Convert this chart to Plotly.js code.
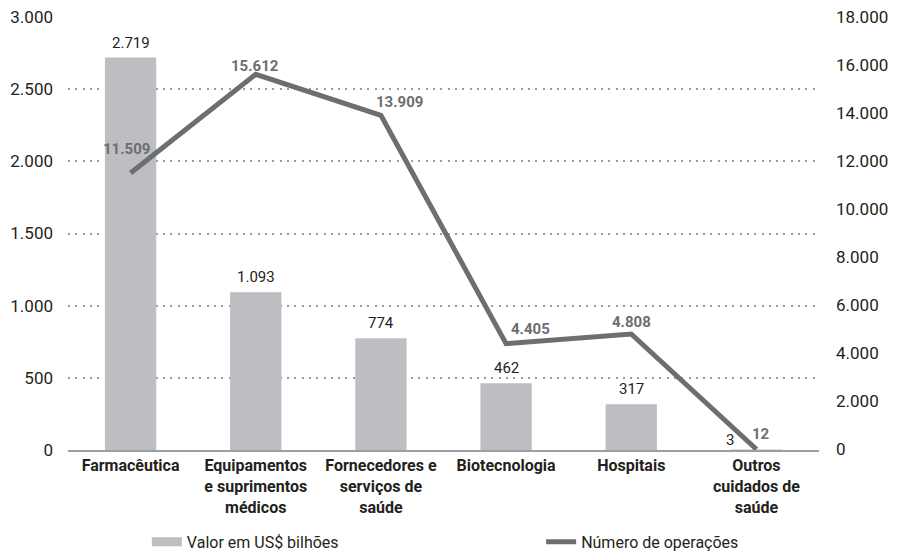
<!DOCTYPE html>
<html>
<head>
<meta charset="utf-8">
<script src="https://cdn.plot.ly/plotly-3.0.1.min.js"></script>
<style>html,body{margin:0;padding:0;background:#fff;}#chart{width:897px;height:552px;}</style>
</head>
<body>
<div id="chart"></div>
<script>
// ---- Data ----
const categories = [
  "Farmacêutica",
  "Equipamentos<br>e suprimentos<br>médicos",
  "Fornecedores e<br>serviços de<br>saúde",
  "Biotecnologia",
  "Hospitais",
  "Outros<br>cuidados de<br>saúde"
];
const valorBilhoes = [2719, 1093, 774, 462, 317, 3];
const numeroOperacoes = [11509, 15612, 13909, 4405, 4808, 12];
const leftTicks = [0, 500, 1000, 1500, 2000, 2500, 3000];
const rightTicks = [0, 2000, 4000, 6000, 8000, 10000, 12000, 14000, 16000, 18000];

// ---- Label placement (pixel shifts) ----
const lineLabelShift = [[-4, 24], [-1, 8], [19, 13], [24, 15], [0, 12], [5, 15]];
const barLabelShift = [[0, 15], [0, 15], [0, 15], [0, 15], [0, 15], [-26, 10]];

const barColor = "#bdbec1";
const lineColor = "#6d6e71";
const font = "Roboto, 'Noto Sans', sans-serif";

function fmt(v) {
  return String(v).replace(/\B(?=(\d{3})+(?!\d))/g, ".");
}

const traces = [
  {
    type: "bar", x: categories, y: valorBilhoes, yaxis: "y",
    marker: {color: barColor}, width: 0.41, showlegend: false,
    name: "Valor em US$ bilhões", hoverinfo: "x+y"
  },
  {
    type: "scatter", mode: "lines", x: categories, y: numeroOperacoes, yaxis: "y2",
    line: {color: lineColor, width: 5}, name: "Número de operações",
    cliponaxis: false, legend: "legend2"
  },
  {
    type: "scatter", mode: "lines", x: [null], y: [null], yaxis: "y",
    line: {color: barColor, width: 9}, name: "Valor em US$ bilhões",
    legend: "legend", hoverinfo: "skip"
  }
];

const annotations = [];
categories.forEach((c, i) => {
  annotations.push({
    x: c, y: valorBilhoes[i], xref: "x", yref: "y",
    text: fmt(valorBilhoes[i]), showarrow: false,
    xanchor: "center", yanchor: "middle",
    xshift: barLabelShift[i][0], yshift: barLabelShift[i][1],
    font: {family: font, size: 15, color: "#231f20"}
  });
  annotations.push({
    x: c, y: numeroOperacoes[i], xref: "x", yref: "y2",
    text: "<b>" + fmt(numeroOperacoes[i]) + "</b>", showarrow: false,
    xanchor: "center", yanchor: "middle",
    xshift: lineLabelShift[i][0], yshift: lineLabelShift[i][1],
    font: {family: font, size: 15, color: lineColor}
  });
});

const legendFont = {family: font, size: 16, color: "#231f20"};
const layout = {
  width: 897, height: 552,
  margin: {l: 68, r: 78, t: 17, b: 102, pad: 0, autoexpand: false},
  paper_bgcolor: "#fff", plot_bgcolor: "#fff",
  separators: ",.",
  font: {family: font, size: 16, color: "#231f20"},
  showlegend: true,
  legend: {
    orientation: "h", x: 0.105, xanchor: "left", y: -0.212, yanchor: "middle",
    font: legendFont, bgcolor: "rgba(0,0,0,0)"
  },
  legend2: {
    orientation: "h", x: 0.63, xanchor: "left", y: -0.212, yanchor: "middle",
    font: legendFont, bgcolor: "rgba(0,0,0,0)"
  },
  bargap: 0.59,
  xaxis: {
    type: "category", showgrid: false, zeroline: false,
    showline: true, linecolor: "#9d9ea1", linewidth: 2,
    ticks: "", tickfont: {family: font, size: 16, color: "#231f20", weight: "bold"},
    fixedrange: true
  },
  yaxis: {
    range: [0, 3000], tickvals: leftTicks, ticktext: leftTicks.map(fmt),
    showgrid: true, gridcolor: "#9a9b9e", gridwidth: 2, griddash: "2px,5.3px",
    zeroline: false, showline: false, ticks: "", ticklabelstandoff: 14,
    tickfont: {family: font, size: 17, color: "#231f20"}, fixedrange: true
  },
  yaxis2: {
    overlaying: "y", side: "right", range: [-20, 18000],
    tickvals: rightTicks, ticktext: rightTicks.map(fmt),
    showgrid: false, zeroline: false, showline: false, ticks: "", ticklabelstandoff: 16,
    tickfont: {family: font, size: 17, color: "#231f20"}, fixedrange: true
  },
  annotations: annotations
};

Plotly.newPlot("chart", traces, layout, {displayModeBar: false, staticPlot: true});
</script>
</body>
</html>
